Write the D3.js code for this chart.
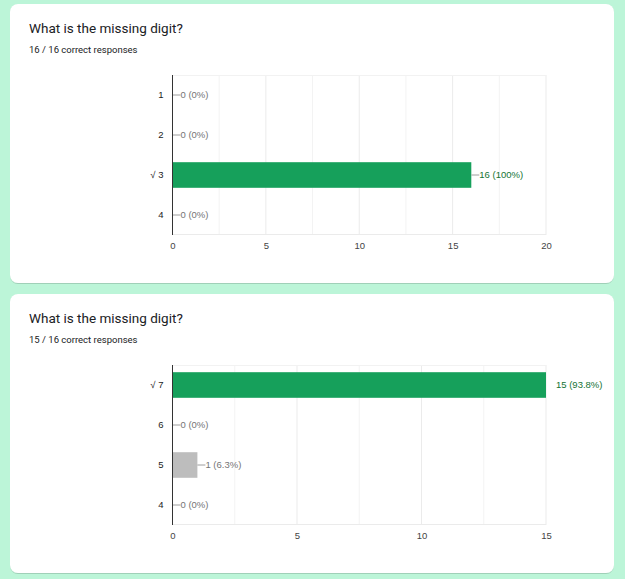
<!DOCTYPE html>
<html>
<head>
<meta charset="utf-8">
<script src="https://cdn.jsdelivr.net/npm/d3@7"></script>
<style>
  html, body { margin: 0; padding: 0; background: #bcf5d8; }
  svg { display: block; }
</style>
</head>
<body>
<svg id="chart" width="625" height="579"></svg>
<script>
// ---- data ----
const title = "What is the missing digit?";
const totalResponses = 16;

const categories1 = ["1", "2", "3", "4"];
const values1 = [0, 0, 16, 0];
const correct1 = "3";
const ticks1 = [0, 5, 10, 15, 20];
const summary1 = "16 / 16 correct responses";

const categories2 = ["7", "6", "5", "4"];
const values2 = [15, 0, 1, 0];
const correct2 = "7";
const ticks2 = [0, 5, 10, 15];
const summary2 = "15 / 16 correct responses";

// ---- drawing ----
const svg = d3.select("#chart");
const defs = svg.append("defs");
const f = defs.append("filter").attr("id", "shadow").attr("x", "-5%").attr("y", "-5%").attr("width", "110%").attr("height", "110%");
f.append("feDropShadow").attr("dx", 0).attr("dy", 0.6).attr("stdDeviation", 0.7).attr("flood-color", "#000").attr("flood-opacity", 0.25);

const FONT = "Arial, 'Liberation Sans', sans-serif";

function pctLabel(v) {
  const p = Math.round(v / totalResponses * 1000) / 10;
  return v + " (" + p + "%)";
}

function drawCard(top, cats, vals, correct, ticks, summary) {
  const g = svg.append("g");
  g.append("rect")
    .attr("x", 10).attr("y", top).attr("width", 604).attr("height", 279)
    .attr("rx", 8).attr("fill", "#fff").attr("filter", "url(#shadow)");

  g.append("text").attr("x", 29).attr("y", top + 29)
    .attr("font-family", "Roboto, 'Liberation Sans', Arial, sans-serif")
    .attr("font-size", 13.5).attr("fill", "#202124").text(title);
  g.append("text").attr("x", 29).attr("y", top + 48.5)
    .attr("font-family", "Roboto, 'Liberation Sans', Arial, sans-serif")
    .attr("font-size", 9.5).attr("fill", "#202124").text(summary);

  const left = 172.5, right = 546;
  const y0 = top + 71, y1 = top + 231;
  const maxV = ticks[ticks.length - 1];

  const x = d3.scaleLinear().domain([0, maxV]).range([left, right]);
  const y = d3.scaleBand().domain(cats).range([y0, y1]).paddingInner(0.36).paddingOuter(0.18);

  // gridlines (major + minor)
  const grid = [];
  for (let i = 0; i < ticks.length - 1; i++) {
    grid.push(ticks[i] + (ticks[i + 1] - ticks[i]) / 2);
    grid.push(ticks[i + 1]);
  }
  g.append("g").selectAll("line").data(grid).join("line")
    .attr("x1", d => x(d)).attr("x2", d => x(d))
    .attr("y1", y0).attr("y2", y1)
    .attr("stroke", d => ticks.includes(d) ? "#ebebeb" : "#f3f3f3").attr("stroke-width", 1);
  // top/bottom light lines
  g.append("line").attr("x1", left).attr("x2", right).attr("y1", y0 + 0.5).attr("y2", y0 + 0.5)
    .attr("stroke", "#f2f2f2");
  g.append("line").attr("x1", left).attr("x2", right).attr("y1", y1 - 0.5).attr("y2", y1 - 0.5)
    .attr("stroke", "#ebebeb");

  // x axis tick labels
  const xAxis = d3.axisBottom(x).tickValues(ticks).tickSize(0).tickPadding(0).tickFormat(d3.format("d"));
  const ax = g.append("g").attr("transform", `translate(0,${y1 + 14})`).call(xAxis);
  ax.select(".domain").remove();
  ax.selectAll("text").attr("font-family", FONT)
    .attr("font-size", 9.5).attr("fill", "#444").attr("dy", 0);

  // category labels
  const yAxis = d3.axisLeft(y).tickSize(0).tickPadding(9)
    .tickFormat(d => d === correct ? "\u221A " + d : d);
  const ay = g.append("g").attr("transform", `translate(${left},0)`).call(yAxis);
  ay.select(".domain").remove();
  ay.selectAll("text").attr("font-family", FONT)
    .attr("font-size", 9.5).attr("fill", "#222");

  const data = cats.map((c, i) => ({ c, v: vals[i], ok: c === correct }));

  // bars
  g.append("g").selectAll("rect").data(data.filter(d => d.v > 0)).join("rect")
    .attr("x", x(0)).attr("y", d => y(d.c))
    .attr("width", d => x(d.v) - x(0)).attr("height", y.bandwidth())
    .attr("fill", d => d.ok ? "#16a05b" : "#bdbdbd");

  // leader lines and value labels
  const lab = g.append("g");
  data.forEach(d => {
    const cy = y(d.c) + y.bandwidth() / 2;
    const xe = x(d.v);
    const col = d.ok ? "#137333" : "#757575";
    let tx;
    if (d.v >= maxV) {
      tx = xe + 10;
    } else {
      lab.append("line").attr("x1", xe).attr("x2", xe + 8).attr("y1", cy).attr("y2", cy)
        .attr("stroke", "#9e9e9e").attr("stroke-width", 1);
      tx = xe + 8;
    }
    lab.append("text").attr("x", tx).attr("y", cy).attr("dy", "0.35em")
      .attr("font-family", FONT)
      .attr("font-size", 9.5).attr("fill", col).text(pctLabel(d.v));
  });

  // vertical baseline axis
  g.append("line").attr("x1", left).attr("x2", left).attr("y1", y0).attr("y2", y1)
    .attr("stroke", "#333").attr("stroke-width", 1);
}

drawCard(4, categories1, values1, correct1, ticks1, summary1);
drawCard(294, categories2, values2, correct2, ticks2, summary2);
</script>
</body>
</html>
